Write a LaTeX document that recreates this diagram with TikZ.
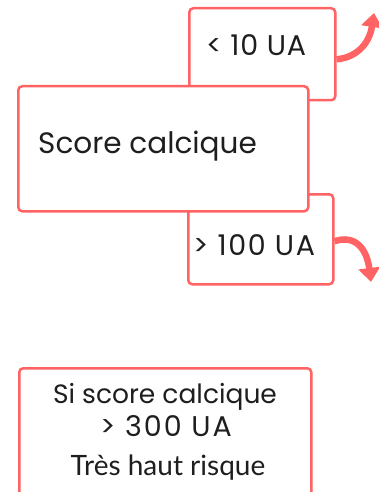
\documentclass[tikz,border=0pt]{standalone}
\usepackage{fontspec}
\setmainfont{Lato}
\newfontfamily\popp{Poppins}
\usetikzlibrary{arrows.meta}
\definecolor{coral}{RGB}{255,99,99}
\definecolor{ink}{RGB}{30,30,30}
\begin{document}
\begin{tikzpicture}[x=1pt,y=-1pt,
  box/.style={draw=coral,line width=2.5pt,rounded corners=4pt,fill=white,inner sep=0pt,anchor=north west},
  lbl/.style={text=ink,inner sep=0pt},
  curl/.style={draw=coral,line width=6.5pt,-{Triangle[width=21pt,length=14pt]}}]
\useasboundingbox (0,0) rectangle (379,492);
% small boxes (behind)
\node[box,minimum width=146pt,minimum height=92pt] (ten) at (188,7) {};
\node[box,minimum width=145pt,minimum height=90pt] (hundred) at (187,193) {};
\node[lbl,anchor=base west,font=\popp\addfontfeature{LetterSpace=3}\fontsize{28.5}{30}\selectfont] (tentxt) at (206,56) {< 10 UA};
\node[lbl,anchor=base west,font=\popp\addfontfeature{LetterSpace=5.5}\fontsize{28.5}{30}\selectfont] (hundredtxt) at (193,255) {> 100 UA};
% main box
\node[box,minimum width=290pt,minimum height=125pt] (score) at (17,85) {};
\node[lbl,anchor=base west,font=\popp\fontsize{29.5}{36}\selectfont] (scoretxt) at (38,153) {Score calcique};
% bottom box
\node[box,minimum width=292pt,minimum height=140pt] (risk) at (18,367) {};
\node[lbl,anchor=base,font=\popp\fontsize{26.5}{30}\selectfont] (l1) at (165,403) {Si score calcique};
\node[lbl,anchor=base,font=\popp\addfontfeature{LetterSpace=7}\fontsize{28.5}{30}\selectfont] (l2) at (166,436) {> 300 UA};
\node[lbl,anchor=base,font=\fontsize{28}{32}\selectfont] (l3) at (168,475) {Très haut risque};
% arrows
\coordinate (upend) at (374,13);
\coordinate (downend) at (371,282);
\draw[curl] ([yshift=-5pt]ten.east) .. controls (354,58) and (369,46) .. (upend);
\draw[curl] ([yshift=-2pt]hundred.east) .. controls (356,234) and (367,250) .. (downend);
\end{tikzpicture}
\end{document}
